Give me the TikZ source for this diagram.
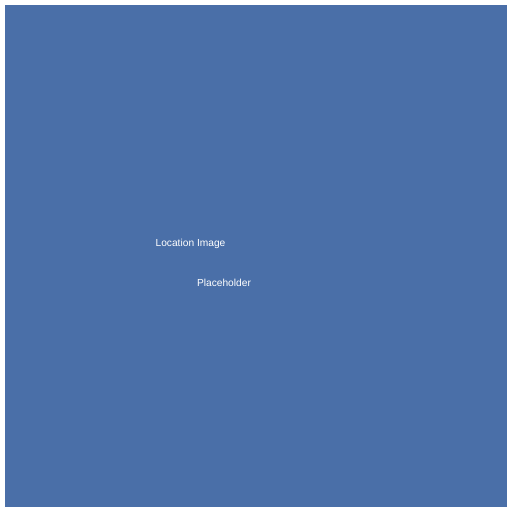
\documentclass[tikz,border=0pt]{standalone}
\usepackage{fontspec}
\setmainfont{Liberation Sans}
\definecolor{bgblue}{RGB}{74,111,168}
\begin{document}
\begin{tikzpicture}[x=1pt,y=-1pt,
  lbl/.style={text=white,font=\fontsize{10.2}{12}\selectfont,inner sep=0pt,anchor=base}]
\useasboundingbox (0,0) rectangle (512,512);
\fill[white] (0,0) rectangle (512,512);
\fill[bgblue] (5,5) rectangle (507,507);
\node[lbl] (t1) at (190.5,246) {Location Image};
\node[lbl] (t2) at (224,286) {Placeholder};
\end{tikzpicture}
\end{document}
